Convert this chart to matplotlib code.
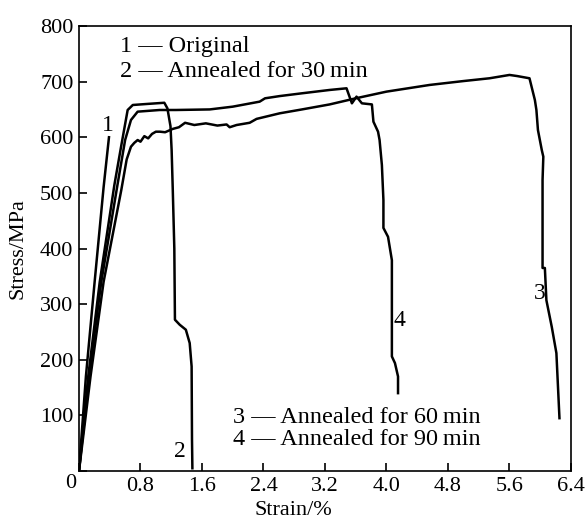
import matplotlib.pyplot as plt
import numpy as np

plt.rcParams['font.family'] = ['Liberation Serif', 'DejaVu Serif']

# strain (%) / stress (MPa)
strain_1 = [0, 0.09, 0.20, 0.32, 0.39]
stress_1 = [0, 170, 335, 510, 600]

strain_2 = [0, 0.12, 0.27, 0.46, 0.55, 0.633, 0.70, 0.90, 1.11, 1.15, 1.19,
            1.205, 1.22, 1.24, 1.248, 1.31, 1.39, 1.44, 1.465, 1.47, 1.475]
stress_2 = [0, 170, 340, 514, 585, 649, 658, 660, 662, 652, 620,
            577, 505, 400, 272, 263, 254, 230, 188, 56, 5]

strain_3 = [0, 0.15, 0.32, 0.55, 0.62, 0.676, 0.72, 0.763, 0.80, 0.85, 0.90,
            0.95, 1.0, 1.053, 1.12, 1.22, 1.30, 1.38, 1.50, 1.65, 1.80, 1.92,
            1.96, 2.05, 2.22, 2.31, 2.61, 2.90, 3.26, 3.60, 4.00, 4.56, 5.00,
            5.34, 5.60, 5.70, 5.86, 5.93, 5.95, 5.97, 6.02, 6.04, 6.03, 6.03,
            6.06, 6.08, 6.15, 6.21, 6.25]
stress_3 = [0, 170, 340, 505, 560, 583, 590, 595, 592, 602, 598,
            606, 610, 610, 609, 615, 618, 626, 622, 625, 621, 623,
            618, 622, 626, 633, 643, 650, 659, 670, 682, 694, 701,
            706, 712, 710, 706, 667, 649, 613, 577, 565, 523, 365,
            365, 307, 259, 212, 95]

strain_4 = [0, 0.13, 0.29, 0.50, 0.60, 0.676, 0.763, 1.05, 1.26, 1.70, 2.00,
            2.35, 2.42, 2.61, 2.90, 3.26, 3.48, 3.55, 3.61, 3.68, 3.81, 3.83,
            3.89, 3.91, 3.94, 3.96, 3.96, 4.02, 4.07, 4.07, 4.11, 4.15, 4.15]
stress_4 = [0, 170, 340, 514, 595, 631, 646, 649, 649, 650, 655,
            664, 670, 674, 679, 685, 688, 661, 673, 661, 659, 628,
            610, 595, 550, 487, 437, 421, 379, 206, 194, 170, 140]

curves = [(strain_1, stress_1), (strain_2, stress_2),
          (strain_3, stress_3), (strain_4, stress_4)]
curve_labels = ['1', '2', '3', '4']
label_pos = [(0.38, 622), (1.31, 35), (5.99, 320), (4.17, 270)]
legend_top = ['1 \u2014 Original', '2 \u2014 Annealed for 30\u2009min']
legend_bottom = ['3 \u2014 Annealed for 60\u2009min', '4 \u2014 Annealed for 90\u2009min']

fig = plt.figure(figsize=(5.86, 5.24), dpi=100)
ax = fig.add_axes([0.1348, 0.1011, 0.8396, 0.8493])

for x, y in curves:
    ax.plot(x, y, color='black', lw=1.8, solid_joinstyle='round')

for lab, (lx, ly) in zip(curve_labels, label_pos):
    ax.text(lx, ly, lab, fontsize=17, ha='center', va='center')

ax.text(0.083, 0.942, legend_top[0], transform=ax.transAxes, fontsize=17.5, va='baseline')
ax.text(0.083, 0.885, legend_top[1], transform=ax.transAxes, fontsize=17.5, va='baseline')
ax.text(0.313, 0.108, legend_bottom[0], transform=ax.transAxes, fontsize=17.5, va='baseline')
ax.text(0.313, 0.058, legend_bottom[1], transform=ax.transAxes, fontsize=17.5, va='baseline')

ax.set_xlim(0, 6.4)
ax.set_ylim(0, 800)
xt = np.arange(0, 6.41, 0.8)
ax.set_xticks(xt)
ax.set_xticklabels([''] + ['%.1f' % v for v in xt[1:]])
yt = np.arange(0, 801, 100)
ax.set_yticks(yt)
ax.set_yticklabels([''] + ['%d' % v for v in yt[1:]])
ax.tick_params(direction='in', length=6, width=1.2, labelsize=16, pad=4)
ax.annotate('0', xy=(0, 0), xycoords='axes fraction', xytext=(-2, -2),
            textcoords='offset points', ha='right', va='top', fontsize=16)
for s in ax.spines.values():
    s.set_linewidth(1.2)

ax.set_xlabel('Strain/%', fontsize=16)
ax.set_ylabel('Stress/MPa', fontsize=16)
ax.xaxis.set_label_coords(0.435, -0.068)
ax.yaxis.set_label_coords(-0.104, 0.5)

fig.savefig('out.png', dpi=100)
